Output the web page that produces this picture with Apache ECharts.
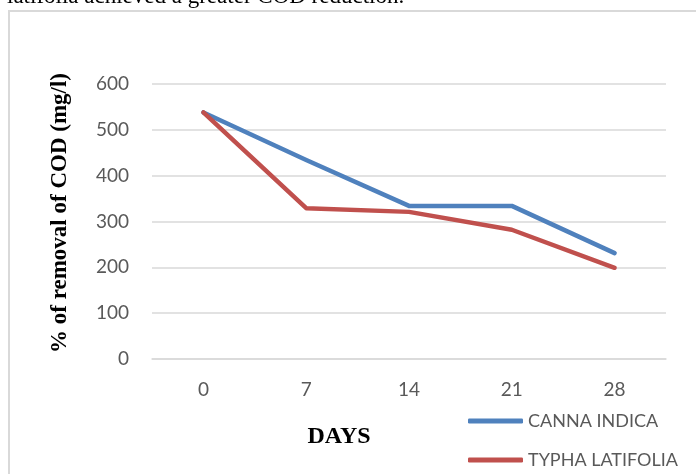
<!DOCTYPE html>
<html>
<head>
<meta charset="utf-8">
<script src="https://cdn.jsdelivr.net/npm/echarts@6/dist/echarts.min.js"></script>
<style>
  html, body { margin: 0; padding: 0; background: #ffffff; }
  #chart { width: 696px; height: 474px; }
</style>
</head>
<body>
<div id="chart"></div>
<script>
// Sampling days and COD readings for the two plants
const days = ['0', '7', '14', '21', '28'];
const cannaIndica = [538, 434, 334, 334, 231];
const typhaLatifolia = [538, 329, 321, 282, 199];
const seriesNames = ['CANNA INDICA', 'TYPHA LATIFOLIA'];
const yTicks = { min: 0, max: 600, interval: 100 };

const chart = echarts.init(document.getElementById('chart'), null, { renderer: 'canvas' });

const labelFont = 'Lato, "Open Sans", sans-serif';
const serif = '"Liberation Serif", "DejaVu Serif", serif';

chart.setOption({
  backgroundColor: '#ffffff',
  animation: false,
  grid: { left: 152, right: 30, top: 84, bottom: 115 },
  legend: {
    orient: 'vertical',
    left: 468,
    top: 412,
    padding: 0,
    itemWidth: 55,
    itemHeight: 5,
    itemGap: 21,
    icon: 'roundRect',
    textStyle: { fontFamily: labelFont, fontSize: 18, color: '#595959' },
    data: seriesNames
  },
  xAxis: {
    type: 'category',
    data: days,
    boundaryGap: true,
    axisLine: { show: true, lineStyle: { color: '#d9d9d9', width: 1.5 } },
    axisTick: { show: false },
    axisLabel: { fontFamily: labelFont, fontSize: 19, color: '#595959', margin: 21 },
    splitLine: { show: false }
  },
  yAxis: {
    type: 'value',
    min: yTicks.min,
    max: yTicks.max,
    interval: yTicks.interval,
    axisLine: { show: false },
    axisTick: { show: false },
    axisLabel: { fontFamily: labelFont, fontSize: 19, color: '#595959', margin: 23 },
    splitLine: { lineStyle: { color: '#d9d9d9', width: 1.5 } }
  },
  series: [
    {
      name: seriesNames[0],
      type: 'line',
      data: cannaIndica,
      showSymbol: false,
      symbol: 'none',
      color: '#4f81bd',
      lineStyle: { width: 4.5, color: '#4f81bd', cap: 'round', join: 'round' }
    },
    {
      name: seriesNames[1],
      type: 'line',
      data: typhaLatifolia,
      showSymbol: false,
      symbol: 'none',
      color: '#c0504d',
      lineStyle: { width: 4.5, color: '#c0504d', cap: 'round', join: 'round' }
    }
  ],
  graphic: [
    {
      type: 'rect',
      silent: true,
      shape: { x: 9, y: 11, width: 700, height: 480 },
      style: { fill: 'none', stroke: '#d9d9d9', lineWidth: 2 }
    },
    {
      type: 'text',
      silent: true,
      x: 7,
      y: -3,
      style: {
        text: 'latifolia achieved a greater COD reduction.',
        font: '23px ' + serif,
        fill: '#000000',
        verticalAlign: 'middle',
        align: 'left'
      }
    },
    {
      type: 'text',
      silent: true,
      x: 60,
      y: 213,
      rotation: Math.PI / 2,
      style: {
        text: '% of removal of COD (mg/l)',
        font: 'bold 23px ' + serif,
        fill: '#000000',
        align: 'center',
        verticalAlign: 'middle'
      }
    },
    {
      type: 'text',
      silent: true,
      x: 339,
      y: 437,
      style: {
        text: 'DAYS',
        font: 'bold 24px ' + serif,
        fill: '#000000',
        align: 'center',
        verticalAlign: 'middle'
      }
    }
  ]
});
</script>
</body>
</html>
